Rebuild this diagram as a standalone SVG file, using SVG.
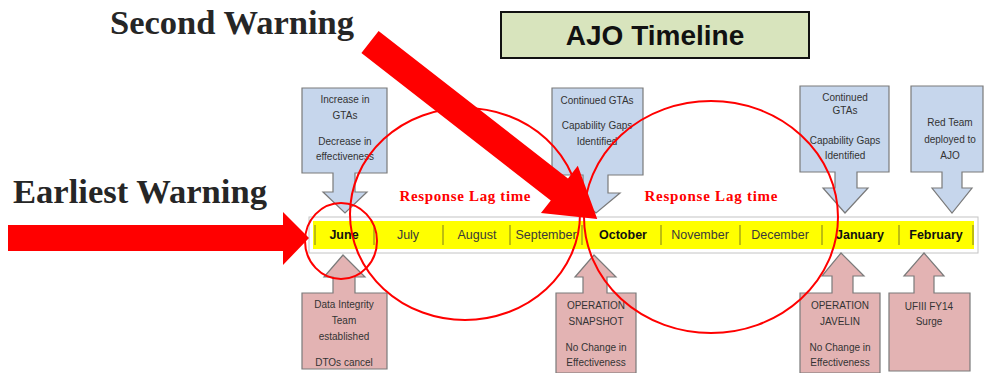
<svg xmlns="http://www.w3.org/2000/svg" width="984" height="373" viewBox="0 0 984 373">
<defs>
<style>
.blue{fill:#c6d6ec;stroke:#7a7a7a;stroke-width:1.2}
.pink{fill:#e3b3b3;stroke:#7a7a7a;stroke-width:1.2}
.ct{font-family:"Liberation Sans",Arial,sans-serif;font-size:10px;fill:#333;text-anchor:middle}
.mo{font-family:"Liberation Sans",Arial,sans-serif;font-size:12.5px;fill:#3a3a3a;text-anchor:middle}
.mb{font-weight:bold;fill:#111}
.sep{stroke:#9a9a1a;stroke-width:1.3}
.big{font-family:"Liberation Serif","Times New Roman",serif;font-weight:bold;fill:#262626}
.lag{font-family:"Liberation Serif","Times New Roman",serif;font-weight:bold;font-size:15px;fill:#ff0000}
.ring{fill:none;stroke:#ff0000;stroke-width:2}
.arrow{fill:#ff0000}
</style>
</defs>
<rect width="984" height="373" fill="#ffffff"/>

<g id="title">
<rect x="501" y="12" width="308" height="46" fill="#d8e4bd" stroke="#111" stroke-width="2"/>
<text x="655" y="45" text-anchor="middle" font-family="'Liberation Sans',Arial,sans-serif" font-weight="bold" font-size="28" fill="#111">AJO Timeline</text>
</g>

<g id="labels">
<text class="big" x="110" y="34" font-size="33" textLength="244" lengthAdjust="spacingAndGlyphs">Second Warning</text>
<text class="big" x="13" y="203" font-size="33" textLength="254" lengthAdjust="spacingAndGlyphs">Earliest Warning</text>
<text class="lag" x="465" y="201" text-anchor="middle" textLength="131">Response Lag time</text>
<text class="lag" x="711" y="201" text-anchor="middle" textLength="133">Response Lag time</text>
</g>

<g id="timeline">
<rect x="309" y="217" width="669" height="36" fill="#ffffff" stroke="#c4c4c4" stroke-width="1"/>
<rect x="313" y="221" width="661" height="28" fill="#ffff00"/>
<line class="sep" x1="315" y1="225" x2="315" y2="245"/>
<line class="sep" x1="374" y1="225" x2="374" y2="245"/>
<line class="sep" x1="443" y1="225" x2="443" y2="245"/>
<line class="sep" x1="510" y1="225" x2="510" y2="245"/>
<line class="sep" x1="582" y1="225" x2="582" y2="245"/>
<line class="sep" x1="661" y1="225" x2="661" y2="245"/>
<line class="sep" x1="740" y1="225" x2="740" y2="245"/>
<line class="sep" x1="822" y1="225" x2="822" y2="245"/>
<line class="sep" x1="899" y1="225" x2="899" y2="245"/>
<line class="sep" x1="973" y1="225" x2="973" y2="245"/>
<text class="mo mb" x="344" y="239">June</text>
<text class="mo" x="408" y="239">July</text>
<text class="mo" x="477" y="239">August</text>
<text class="mo" x="546" y="239">September</text>
<text class="mo mb" x="623" y="239">October</text>
<text class="mo" x="700" y="239">November</text>
<text class="mo" x="780" y="239">December</text>
<text class="mo mb" x="860" y="239">January</text>
<text class="mo mb" x="936" y="239">February</text>
</g>

<g id="blue1">
<path class="blue" d="M302,88 H387 V173 H355 V192 H367 L345,213 L323,192 H333 V173 H302 Z"/>
<text class="ct" x="345" y="103">Increase in</text>
<text class="ct" x="345" y="119">GTAs</text>
<text class="ct" x="345" y="145">Decrease in</text>
<text class="ct" x="345" y="160">effectiveness</text>
</g>
<g id="blue2">
<path class="blue" d="M552,88 H643 V175 H608 V193 H620 L596,213 L573,193 H583 V175 H552 Z"/>
<text class="ct" x="597" y="104">Continued GTAs</text>
<text class="ct" x="597" y="129">Capability Gaps</text>
<text class="ct" x="597" y="145">Identified</text>
</g>
<g id="blue3">
<path class="blue" d="M800,86 H889 V172 H857 V188 H868 L845,213 L823,188 H835 V172 H800 Z"/>
<text class="ct" x="845" y="101">Continued</text>
<text class="ct" x="845" y="114">GTAs</text>
<text class="ct" x="845" y="144">Capability Gaps</text>
<text class="ct" x="845" y="159">Identified</text>
</g>
<g id="blue4">
<path class="blue" d="M911,86 H983 V172 H962 V188 H972 L952,213 L932,188 H942 V172 H911 Z"/>
<text class="ct" x="950" y="126">Red Team</text>
<text class="ct" x="950" y="143">deployed to</text>
<text class="ct" x="950" y="159">AJO</text>
</g>

<g id="pink1">
<path class="pink" d="M343,255 L365,277 H355 V293 H387 V369 H302 V293 H333 V277 H324 Z"/>
<text class="ct" x="344" y="308">Data Integrity</text>
<text class="ct" x="344" y="324">Team</text>
<text class="ct" x="344" y="340">established</text>
<text class="ct" x="344" y="366">DTOs cancel</text>
</g>
<g id="pink2">
<path class="pink" d="M594,255 L616,277 H607 V293 H636 V373 H556 V293 H583 V277 H575 Z"/>
<text class="ct" x="596" y="309">OPERATION</text>
<text class="ct" x="596" y="325">SNAPSHOT</text>
<text class="ct" x="596" y="351">No Change in</text>
<text class="ct" x="596" y="366">Effectiveness</text>
</g>
<g id="pink3">
<path class="pink" d="M841,253 L864,276 H853 V293 H880 V373 H800 V293 H832 V276 H822 Z"/>
<text class="ct" x="840" y="309">OPERATION</text>
<text class="ct" x="840" y="325">JAVELIN</text>
<text class="ct" x="840" y="351">No Change in</text>
<text class="ct" x="840" y="366">Effectiveness</text>
</g>
<g id="pink4">
<path class="pink" d="M924,253 L944,276 H934 V293 H970 V371 H889 V293 H914 V276 H904 Z"/>
<text class="ct" x="929" y="310">UFIII FY14</text>
<text class="ct" x="929" y="325">Surge</text>
</g>

<g id="connectors">
<ellipse class="ring" cx="465" cy="214" rx="115" ry="106"/>
<ellipse class="ring" cx="711" cy="217" rx="127" ry="116"/>
<ellipse class="ring" cx="341" cy="241" rx="36" ry="38"/>
<path class="arrow" d="M8,225 H283 V212 L309,238 L283,265 V251 H8 Z"/>
<g transform="translate(370,42) rotate(37.9)">
<path class="arrow" d="M0,-14 H240 V-30 L288,0 L240,30 V14 H0 Z"/>
</g>
</g>
</svg>
